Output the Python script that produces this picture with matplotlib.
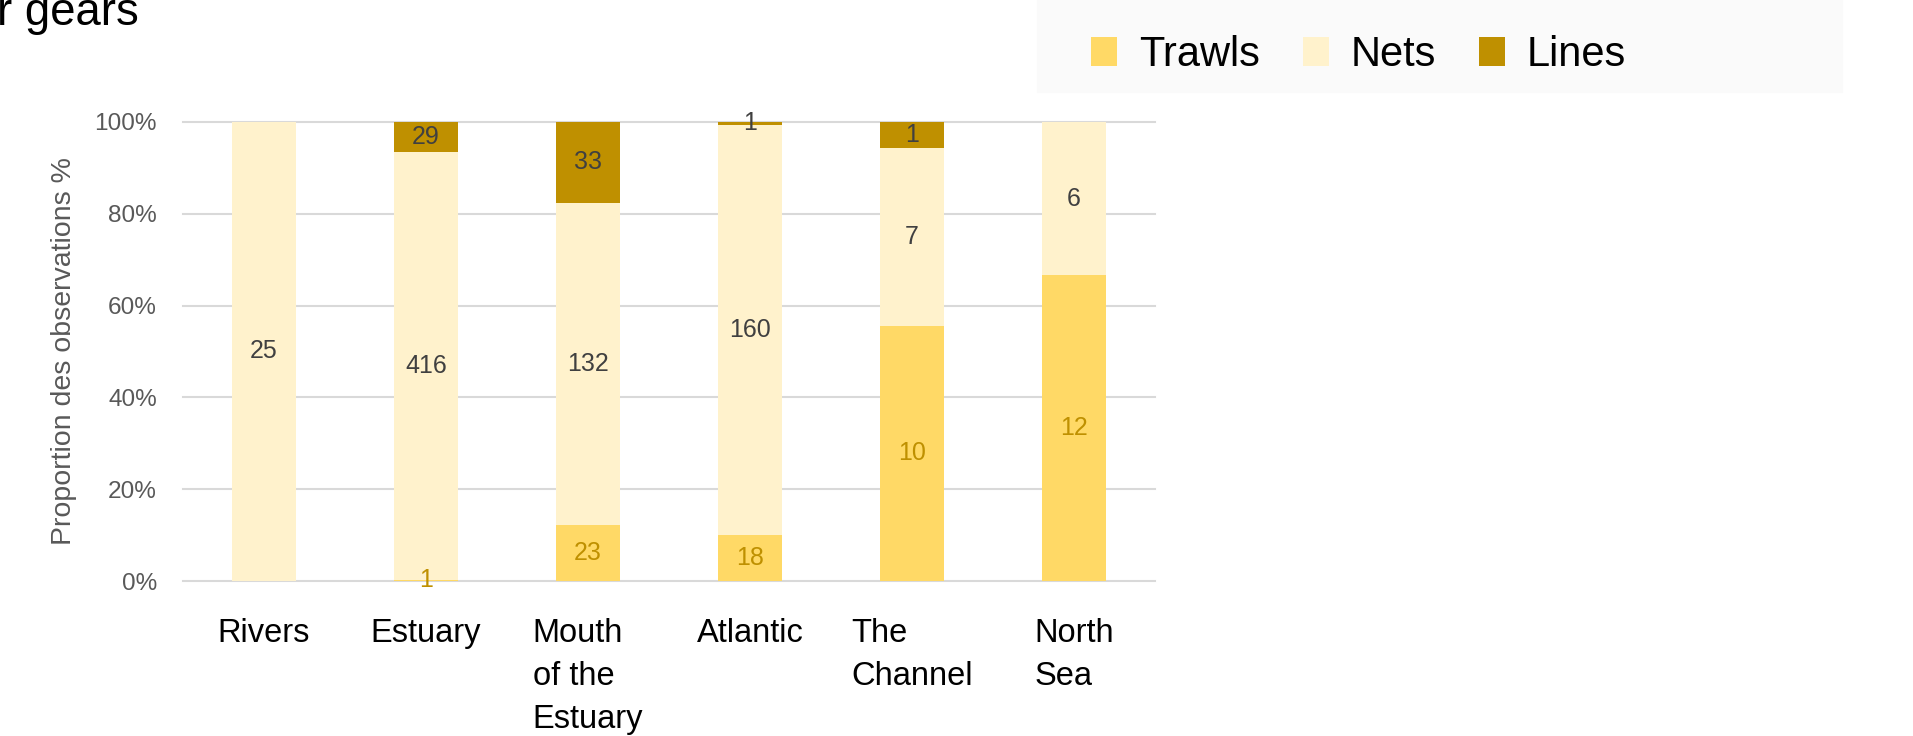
import matplotlib
matplotlib.use("Agg")
import matplotlib.pyplot as plt
import numpy as np
from matplotlib.ticker import PercentFormatter
from matplotlib.patches import Rectangle

# dane - liczba obserwacji wg strefy i typu narzedzia
regions = ['Rivers', 'Estuary', 'Mouth\nof the\nEstuary', 'Atlantic', 'The\nChannel', 'North\nSea']
trawls = [0, 1, 23, 18, 10, 12]
nets = [25, 416, 132, 160, 7, 6]
lines = [0, 29, 33, 1, 1, 0]

c_trawls = '#ffd966'
c_nets = '#fff2cc'
c_lines = '#bf9000'

plt.rcParams['font.family'] = ['Liberation Sans', 'DejaVu Sans']

W, H = 1913, 736
fig = plt.figure(figsize=(W / 100, H / 100), dpi=100)

# lekkie tlo za legenda
fig.patches.append(Rectangle((1037 / W, 1 - 92 / H), 805 / W, 92 / H,
                             transform=fig.transFigure, color='#fafafa', zorder=0))

ax = fig.add_axes([183 / W, 1 - 581 / H, (1155 - 183) / W, (581 - 122) / H])
ax.set_facecolor('none')

# proporcje
tot = np.array(trawls) + np.array(nets) + np.array(lines)
p_tr = np.array(trawls) / tot
p_ne = np.array(nets) / tot
p_li = np.array(lines) / tot

x = np.arange(len(regions))
bw = 0.4
b1 = ax.bar(x, p_tr, bw, color=c_trawls, label='Trawls')
b2 = ax.bar(x, p_ne, bw, bottom=p_tr, color=c_nets, label='Nets')
b3 = ax.bar(x, p_li, bw, bottom=p_tr + p_ne, color=c_lines, label='Lines')

# etykiety na slupkach (bez zer)
ax.bar_label(b1, labels=[str(v) if v else '' for v in trawls], label_type='center',
             fontsize=18, color='#bf9000')
ax.bar_label(b2, labels=[str(v) if v else '' for v in nets], label_type='center',
             fontsize=18, color='#404040')
ax.bar_label(b3, labels=[str(v) if v else '' for v in lines], label_type='center',
             fontsize=18, color='#404040')

ax.set_xlim(-0.5, len(regions) - 0.5)
ax.set_ylim(0, 1)
ax.set_yticks(np.arange(0, 1.01, 0.2))
ax.yaxis.set_major_formatter(PercentFormatter(1.0, decimals=0))
ax.set_axisbelow(True)
ax.yaxis.grid(True, color='#d9d9d9', linewidth=1.5)
for gl in ax.get_ygridlines():
    gl.set_clip_on(False)
for s in ax.spines.values():
    s.set_visible(False)

ax.set_xticks(x, regions)
ax.tick_params(axis='x', length=0, pad=26.6, labelsize=23.5, labelcolor='black')
ax.tick_params(axis='y', length=0, pad=18.7, labelsize=17.6, labelcolor='#595959')
for lab in ax.get_xticklabels():
    lab.set_linespacing(1.5)
    lab.set_multialignment('left')

ax.set_ylabel('Proportion des observations %', fontsize=20.5, color='#595959')
ax.yaxis.set_label_coords(-0.109, 0.5)

# tytul (uciety z lewej)
fig.text(-3 / W, 1 - 25 / H, 'r gears', fontsize=32.8, va='baseline', ha='left')

# legenda
fig.legend(handles=[b1, b2, b3], loc='center left', bbox_to_anchor=(1091 / W, 1 - 55 / H),
           ncol=3, frameon=False, fontsize=30, handlelength=0.62, handleheight=0.7,
           handletextpad=0.53, columnspacing=1.03, borderpad=0, borderaxespad=0)

fig.savefig('out.png', dpi=100)
